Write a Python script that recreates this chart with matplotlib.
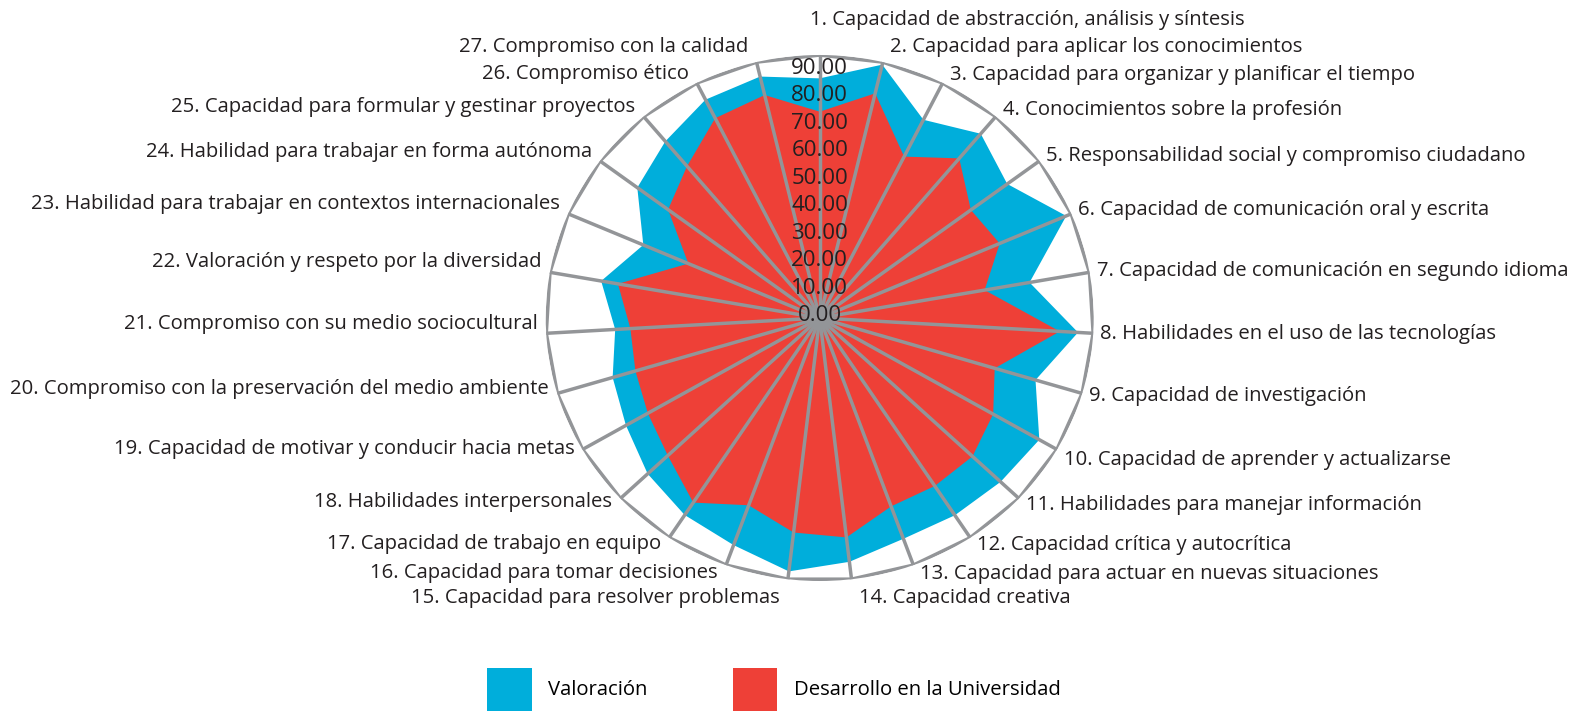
import numpy as np
import matplotlib.pyplot as plt
from matplotlib.patches import Patch

plt.rcParams['font.family'] = ['Open Sans', 'DejaVu Sans']

# Competencias genéricas (27 ejes)
competencias = [
    "1. Capacidad de abstracción, análisis y síntesis",
    "2. Capacidad para aplicar los conocimientos",
    "3. Capacidad para organizar y planificar el tiempo",
    "4. Conocimientos sobre la profesión",
    "5. Responsabilidad social y compromiso ciudadano",
    "6. Capacidad de comunicación oral y escrita",
    "7. Capacidad de comunicación en segundo idioma",
    "8. Habilidades en el uso de las tecnologías",
    "9. Capacidad de investigación",
    "10. Capacidad de aprender y actualizarse",
    "11. Habilidades para manejar información",
    "12. Capacidad crítica y autocrítica",
    "13. Capacidad para actuar en nuevas situaciones",
    "14. Capacidad creativa",
    "15. Capacidad para resolver problemas",
    "16. Capacidad para tomar decisiones",
    "17. Capacidad de trabajo en equipo",
    "18. Habilidades interpersonales",
    "19. Capacidad de motivar y conducir hacia metas",
    "20. Compromiso con la preservación del medio ambiente",
    "21. Compromiso con su medio sociocultural",
    "22. Valoración y respeto por la diversidad",
    "23. Habilidad para trabajar en contextos internacionales",
    "24. Habilidad para trabajar en forma autónoma",
    "25. Capacidad para formular y gestinar proyectos",
    "26. Compromiso ético",
    "27. Compromiso con la calidad",
]

valoracion = [82.0, 89.1, 75.9, 82.3, 76.8, 88.2, 70.0, 85.0, 74.0, 83.3,
              81.7, 80.8, 80.4, 84.0, 87.3, 82.7, 80.7, 77.7, 73.5, 71.0,
              67.3, 72.9, 63.1, 74.7, 78.9, 83.6, 84.9]

desarrollo = [70.6, 79.0, 61.8, 71.3, 61.9, 64.4, 55.0, 79.0, 60.0, 65.8,
              69.0, 68.8, 68.6, 75.6, 73.9, 68.2, 75.6, 68.6, 65.2, 63.2,
              62.3, 67.3, 47.0, 62.1, 67.8, 76.5, 78.4]

ticks = [0, 10, 20, 30, 40, 50, 60, 70, 80, 90]

azul = '#00AEDB'
rojo = '#EE4037'
gris = '#939598'
texto = '#231F20'

n = len(competencias)
ang = np.arange(n) * 2 * np.pi / n
ang_c = np.append(ang, ang[0])
rmax = ticks[-1]
px = 72 / 100  # points per pixel

fig = plt.figure(figsize=(15.75, 7.15), dpi=100)
ax = fig.add_axes([0.3465, 0.1874, 0.3479, 0.7357], projection='polar')
ax.set_aspect('auto')
ax.set_theta_zero_location('N')
ax.set_theta_direction(-1)
ax.set_ylim(0, rmax)
ax.grid(False)
ax.spines['polar'].set_visible(False)
ax.set_xticks([])
ax.set_yticks([])
ax.patch.set_alpha(0)

# series
ax.fill(ang_c, np.append(valoracion, valoracion[0]), color=azul, lw=0, zorder=2)
ax.fill(ang_c, np.append(desarrollo, desarrollo[0]), color=rojo, lw=0, zorder=3)

# polygon frame and spokes
ax.plot(ang_c, [rmax] * (n + 1), color=gris, lw=2.6, zorder=4,
        solid_joinstyle='miter')
for a in ang:
    ax.plot([a, a], [0, rmax], color=gris, lw=2.5, zorder=4)

# radial scale labels
for t in ticks:
    ax.text(0, 0.7 + 0.941 * t, f"{t:.2f}", ha='center', va='center',
            fontsize=16, color=texto, zorder=5)

# category labels
for a, lab in zip(ang, competencias):
    s, c = np.sin(a), np.cos(a)
    if abs(s) < 1e-6:
        ha, dx, dy = 'left', -10, 35
    elif s > 0:
        ha, dx = 'left', 7
        dy = 9 * c
        if c > 0.97:
            dy += 6
        elif c < -0.97:
            dy -= 10
        elif -0.6 < c < -0.4:
            dy -= 6
    else:
        ha, dx = 'right', -8
        dy = 9 * c + 10 * (1 - abs(c))
        if c > 0.97:
            dy += 6
        elif c < -0.97:
            dy -= 10
    ax.annotate(lab, xy=(a, rmax), xytext=(dx * px, dy * px),
                textcoords='offset points', ha=ha, va='center',
                fontsize=14.6, color=texto, annotation_clip=False)

handles = [Patch(facecolor=azul, edgecolor='none', label='Valoración'),
           Patch(facecolor=rojo, edgecolor='none', label='Desarrollo en la Universidad')]
fig.legend(handles=handles, loc='center', bbox_to_anchor=(0.4914, 0.036),
           ncol=2, frameon=False, fontsize=14.6, handlelength=2.2,
           handleheight=2.9, handletextpad=0.8, columnspacing=4.2)

fig.savefig('out.png', dpi=100)
